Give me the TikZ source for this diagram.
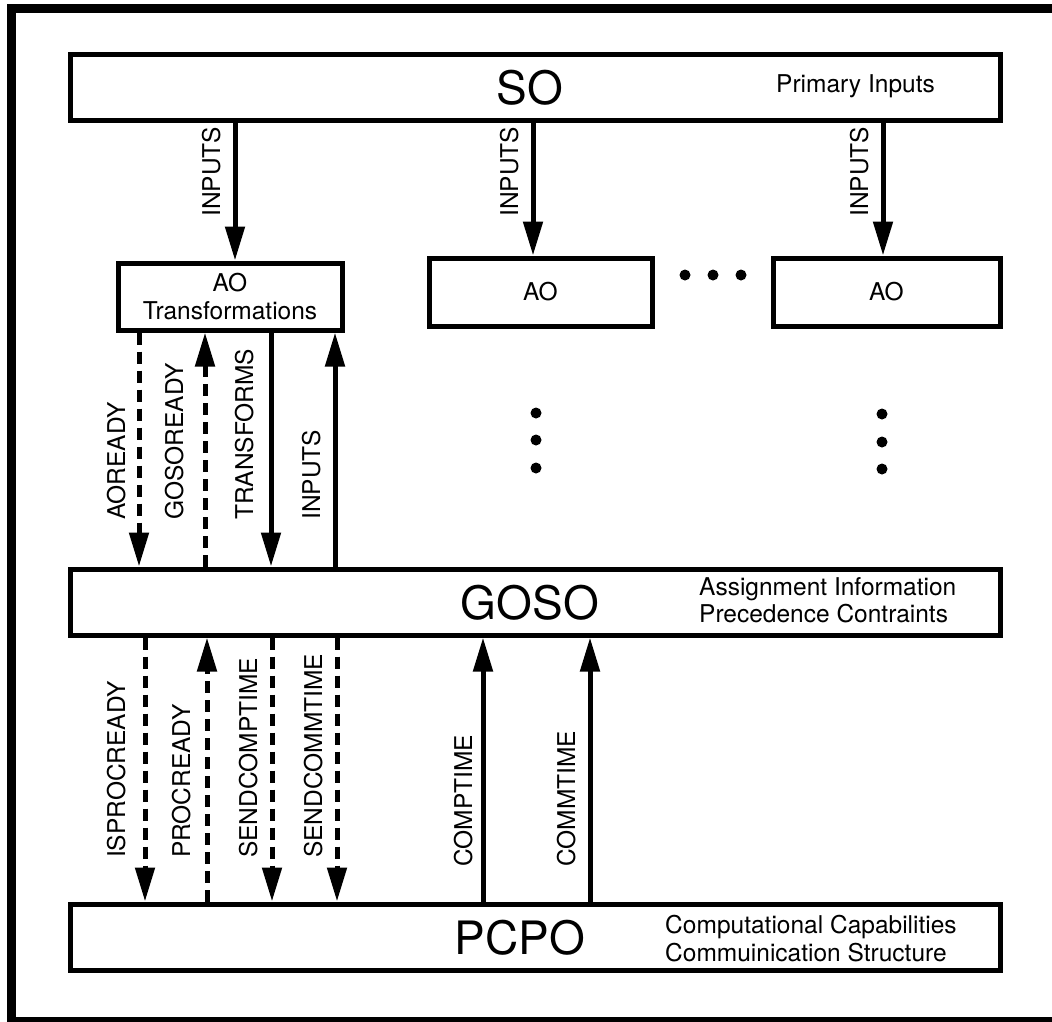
\documentclass[tikz,border=0pt]{standalone}
\usepackage{fontspec}
\setmainfont{TeX Gyre Heros}
\usetikzlibrary{arrows.meta}
\begin{document}
\begin{tikzpicture}[x=1pt,y=-1pt,
  box/.style={draw, line width=5pt, rectangle, inner sep=0pt},
  big/.style={font=\fontsize{46}{50}\selectfont, inner sep=0pt, anchor=base},
  small/.style={font=\fontsize{24.5}{28}\selectfont, inner sep=0pt},
  desc/.style={small, anchor=base west},
  lbl/.style={small, rotate=90, anchor=base west},
  arr/.style={line width=5pt, -{Triangle[length=34pt,width=19pt]}},
  dsh/.style={arr, dash pattern=on 12pt off 7pt},
  dot/.style={fill=black},
]
\useasboundingbox (0,0) rectangle (1052,1021);
\clip (0,0) rectangle (1052,1021);

% outer frame
\draw[line width=9pt] (11.5,8.5) rectangle (1075,1021.5);

% SO layer
\node[box, minimum width=930pt, minimum height=66pt] (so) at (535,87) {};
\node[big] (solbl) at (530,104) {SO};
\node[desc] (sodesc) at (776,92) {Primary Inputs};

% AO boxes
\node[box, small, align=center, minimum width=224pt, minimum height=67pt] (ao1) at (230,296.5) {AO\\Transformations};
\node[box, small, minimum width=223pt, minimum height=68pt] (ao2) at (540.5,292) {AO};
\node[box, small, minimum width=227pt, minimum height=68pt] (ao3) at (886.5,292) {AO};

% GOSO layer
\node[box, minimum width=930pt, minimum height=66pt] (goso) at (535,602) {};
\node[big] (gosolbl) at (530,619) {GOSO};
\node[desc] (gosod1) at (699,595) {Assignment Information};
\node[desc] (gosod2) at (699,622) {Precedence Contraints};

% PCPO layer
\node[box, minimum width=930pt, minimum height=66pt] (pcpo) at (535,937) {};
\node[big] (pcpolbl) at (520,954) {PCPO};
\node[desc] (pcpod1) at (665,933) {Computational Capabilities};
\node[desc] (pcpod2) at (665,961) {Commuinication Structure};

% connector columns
\coordinate (c1) at (235,0);
\coordinate (c2) at (533,0);
\coordinate (c3) at (883,0);
\coordinate (u1) at (139,0);
\coordinate (u2) at (205,0);
\coordinate (u3) at (271,0);
\coordinate (u4) at (335,0);
\coordinate (d1) at (145,0);
\coordinate (d2) at (207,0);
\coordinate (d3) at (272,0);
\coordinate (d4) at (337,0);
\coordinate (d5) at (483,0);
\coordinate (d6) at (590,0);

% SO -> AO
\draw[arr] (so.south -| c1) -- (ao1.north -| c1);
\draw[arr] (so.south -| c2) -- (ao2.north -| c2);
\draw[arr] (so.south -| c3) -- (ao3.north -| c3);
\node[lbl] (in1) at (220,217) {INPUTS};
\node[lbl] (in2) at (518,217) {INPUTS};
\node[lbl] (in3) at (868,217) {INPUTS};

% AO <-> GOSO
\draw[dsh] (ao1.south -| u1) -- (goso.north -| u1);
\draw[dsh] (goso.north -| u2) -- (ao1.south -| u2);
\draw[arr] (ao1.south -| u3) -- (goso.north -| u3);
\draw[arr] (goso.north -| u4) -- (ao1.south -| u4);
\node[lbl] (laoready) at (125,520) {AOREADY};
\node[lbl] (lgosoready) at (183,520) {GOSOREADY};
\node[lbl] (ltransforms) at (253,520) {TRANSFORMS};
\node[lbl] (linputs) at (320,520) {INPUTS};

% GOSO <-> PCPO
\draw[dsh] (goso.south -| d1) -- (pcpo.north -| d1);
\draw[dsh] (pcpo.north -| d2) -- (goso.south -| d2);
\draw[dsh] (goso.south -| d3) -- (pcpo.north -| d3);
\draw[dsh] (goso.south -| d4) -- (pcpo.north -| d4);
\draw[arr] (pcpo.north -| d5) -- (goso.south -| d5);
\draw[arr] (pcpo.north -| d6) -- (goso.south -| d6);
\node[lbl] (lisproc) at (125,858) {ISPROCREADY};
\node[lbl] (lproc) at (190,858) {PROCREADY};
\node[lbl] (lsendcomp) at (257,858) {SENDCOMPTIME};
\node[lbl] (lsendcomm) at (322,858) {SENDCOMMTIME};
\node[lbl] (lcomp) at (472,867) {COMPTIME};
\node[lbl] (lcomm) at (575,867) {COMMTIME};

% ellipsis dots
\foreach \x in {685,713,741} \fill[dot] (\x,275) circle (5.5pt);
\foreach \y in {413,440,468} \fill[dot] (536,\y) circle (5.5pt);
\foreach \y in {414,442,469} \fill[dot] (882,\y) circle (5.5pt);
\end{tikzpicture}
\end{document}
